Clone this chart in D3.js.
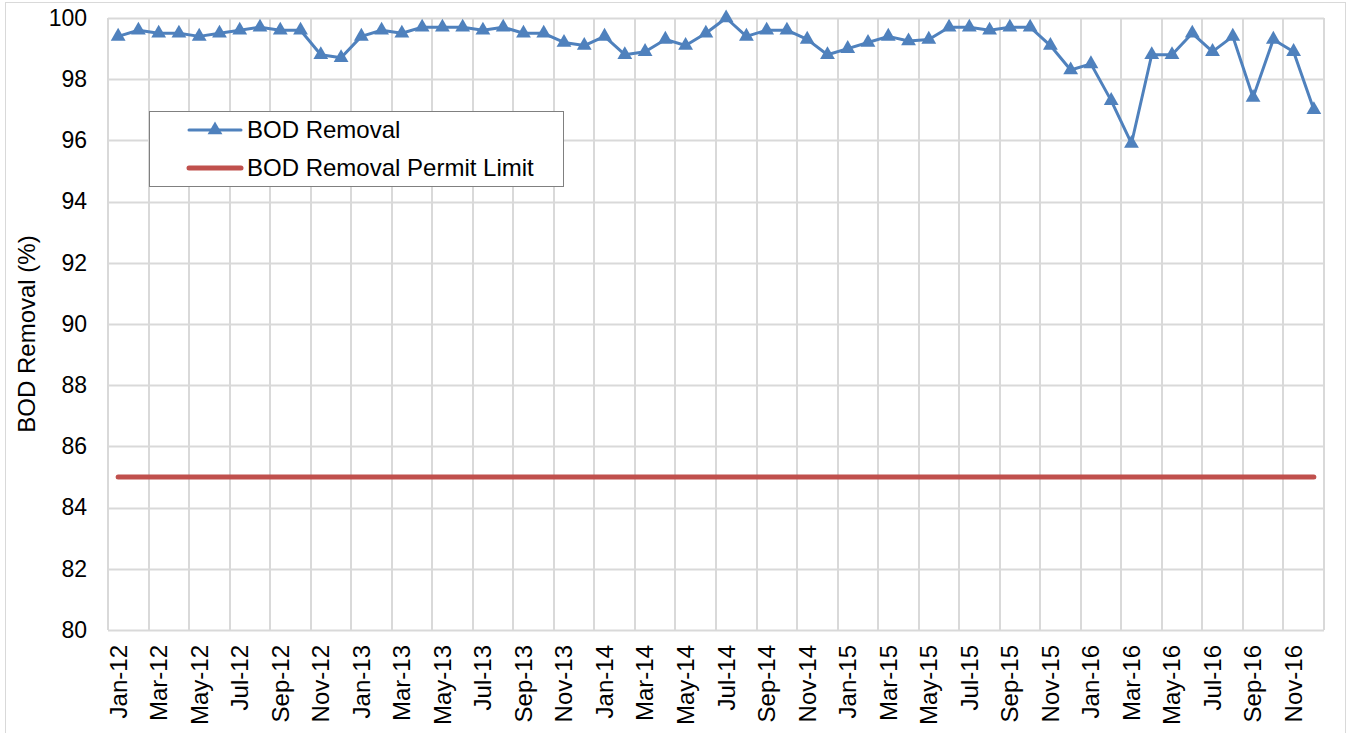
<!DOCTYPE html>
<html>
<head>
<meta charset="utf-8">
<script src="https://cdn.jsdelivr.net/npm/d3@7"></script>
<style>
  html, body { margin: 0; padding: 0; background: #fff; }
  svg { display: block; font-family: "Liberation Sans", Arial, sans-serif; }
</style>
</head>
<body>
<svg id="chart" width="1352" height="733"></svg>
<script>
// Monthly BOD removal, Jan 2012 – Dec 2016
const months = [
  "Jan-12","Feb-12","Mar-12","Apr-12","May-12","Jun-12","Jul-12","Aug-12","Sep-12","Oct-12","Nov-12","Dec-12",
  "Jan-13","Feb-13","Mar-13","Apr-13","May-13","Jun-13","Jul-13","Aug-13","Sep-13","Oct-13","Nov-13","Dec-13",
  "Jan-14","Feb-14","Mar-14","Apr-14","May-14","Jun-14","Jul-14","Aug-14","Sep-14","Oct-14","Nov-14","Dec-14",
  "Jan-15","Feb-15","Mar-15","Apr-15","May-15","Jun-15","Jul-15","Aug-15","Sep-15","Oct-15","Nov-15","Dec-15",
  "Jan-16","Feb-16","Mar-16","Apr-16","May-16","Jun-16","Jul-16","Aug-16","Sep-16","Oct-16","Nov-16","Dec-16"
];
const bodRemoval = [
  99.4, 99.6, 99.5, 99.5, 99.4, 99.5, 99.6, 99.7, 99.6, 99.6, 98.8, 98.7,
  99.4, 99.6, 99.5, 99.7, 99.7, 99.7, 99.6, 99.7, 99.5, 99.5, 99.2, 99.1,
  99.4, 98.8, 98.9, 99.3, 99.1, 99.5, 100.0, 99.4, 99.6, 99.6, 99.3, 98.8,
  99.0, 99.2, 99.4, 99.25, 99.3, 99.7, 99.7, 99.6, 99.7, 99.7, 99.1, 98.3,
  98.5, 97.3, 95.9, 98.8, 98.8, 99.5, 98.9, 99.4, 97.4, 99.3, 98.9, 97.0
];
const permitLimit = months.map(() => 85);
const yTicks = [80, 82, 84, 86, 88, 90, 92, 94, 96, 98, 100];
const seriesNames = ["BOD Removal", "BOD Removal Permit Limit"];

const blue = "#4F81BD";
const red = "#C0504D";
const gridColor = "#D9D9D9";
const fontFamily = "Liberation Sans, Arial, sans-serif";

const svg = d3.select("#chart");
const margin = { left: 108, right: 1324, top: 18, bottom: 630 };

// Outer chart frame
svg.append("rect")
  .attr("x", 5.5).attr("y", 2.5)
  .attr("width", 1340).attr("height", 740)
  .attr("fill", "none").attr("stroke", gridColor).attr("stroke-width", 1);

const x = d3.scaleBand().domain(months).range([margin.left, margin.right]).paddingInner(0).paddingOuter(0);
const y = d3.scaleLinear().domain([80, 100]).range([margin.bottom, margin.top]);
const cx = d => x(d) + x.bandwidth() / 2;

// Horizontal grid
svg.append("g").selectAll("line").data(yTicks).join("line")
  .attr("x1", margin.left).attr("x2", margin.right)
  .attr("y1", d => Math.round(y(d)) + 0.5).attr("y2", d => Math.round(y(d)) + 0.5)
  .attr("stroke", gridColor).attr("stroke-width", 2);

// Vertical grid at every other month boundary, plus the right edge
const vBounds = months.filter((m, i) => i % 2 === 0).map(m => x(m)).concat([margin.right]);
svg.append("g").selectAll("line").data(vBounds).join("line")
  .attr("x1", d => Math.round(d)).attr("x2", d => Math.round(d))
  .attr("y1", margin.top).attr("y2", margin.bottom)
  .attr("stroke", gridColor).attr("stroke-width", 2);

// Y axis labels
const yAxis = d3.axisLeft(y).tickValues(yTicks).tickSize(0).tickPadding(21);
svg.append("g").attr("transform", `translate(${margin.left},0)`).call(yAxis)
  .call(g => g.select(".domain").remove())
  .selectAll("text").attr("font-size", 23).attr("fill", "#000")
  .attr("font-family", fontFamily);

// X axis labels (every other month, rotated)
const xAxis = d3.axisBottom(x).tickValues(months.filter((m, i) => i % 2 === 0)).tickSize(0).tickPadding(0);
svg.append("g").attr("transform", `translate(0,${margin.bottom})`).call(xAxis)
  .call(g => g.select(".domain").remove())
  .selectAll("text")
  .attr("font-size", 24).attr("fill", "#000")
  .attr("font-family", fontFamily)
  .attr("transform", "rotate(-90)")
  .attr("text-anchor", "end")
  .attr("x", -15).attr("y", 0).attr("dy", "0.35em");

// Y axis title
svg.append("text")
  .attr("transform", "translate(35,334) rotate(-90)")
  .attr("text-anchor", "middle")
  .attr("font-size", 24).attr("fill", "#000")
  .text("BOD Removal (%)");

// Permit limit line
const line = d3.line().x((d, i) => cx(months[i])).y(d => y(d));
svg.append("path").datum(permitLimit)
  .attr("d", line).attr("fill", "none")
  .attr("stroke", red).attr("stroke-width", 5).attr("stroke-linecap", "round");

// BOD removal line
svg.append("path").datum(bodRemoval)
  .attr("d", line).attr("fill", "none")
  .attr("stroke", blue).attr("stroke-width", 3).attr("stroke-linejoin", "round");

// Triangle markers
const tri = d3.symbol().type(d3.symbolTriangle).size(95);
svg.append("g").selectAll("path").data(bodRemoval).join("path")
  .attr("d", tri)
  .attr("transform", (d, i) => `translate(${cx(months[i])},${y(d)})`)
  .attr("fill", blue);

// Legend
const lg = svg.append("g");
lg.append("rect").attr("x", 149.5).attr("y", 111.5).attr("width", 414).attr("height", 75)
  .attr("fill", "#fff").attr("stroke", "#808080").attr("stroke-width", 1);
lg.append("line").attr("x1", 189).attr("x2", 241).attr("y1", 130).attr("y2", 130)
  .attr("stroke", blue).attr("stroke-width", 3).attr("stroke-linecap", "round");
lg.append("path").attr("d", tri).attr("transform", "translate(215,130)").attr("fill", blue);
lg.append("line").attr("x1", 189).attr("x2", 241).attr("y1", 168).attr("y2", 168)
  .attr("stroke", red).attr("stroke-width", 5).attr("stroke-linecap", "round");
lg.selectAll("text.lbl").data(seriesNames).join("text")
  .attr("class", "lbl")
  .attr("x", 247).attr("y", (d, i) => 130 + i * 38)
  .attr("dy", "0.35em")
  .attr("font-size", 24).attr("fill", "#000")
  .attr("font-family", fontFamily)
  .text(d => d);
</script>
</body>
</html>
